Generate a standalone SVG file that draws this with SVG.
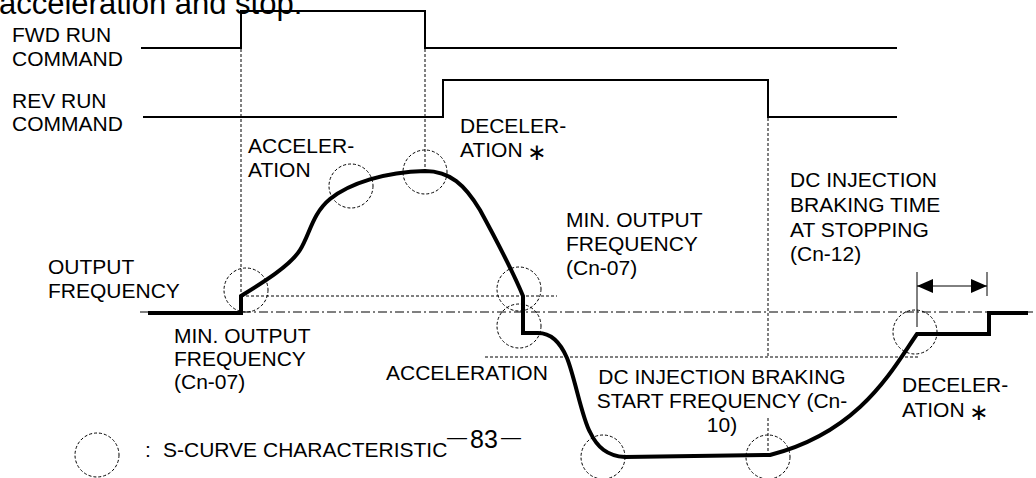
<svg xmlns="http://www.w3.org/2000/svg" width="1036" height="478" viewBox="0 0 1036 478">
<style>
text{font-family:"Liberation Sans",Arial,sans-serif;font-size:21px;fill:#000}
.ast{font-family:"DejaVu Sans","Liberation Sans",sans-serif;font-size:23px}
.sig{fill:none;stroke:#000;stroke-width:2}
.curve{fill:none;stroke:#000;stroke-width:4;stroke-linejoin:miter}
.dot{fill:none;stroke:#000;stroke-width:1;stroke-dasharray:3,2}
.dd{fill:none;stroke:#000;stroke-width:1;stroke-dasharray:9,3,2,3}
.sc{fill:none;stroke:#000;stroke-width:1;stroke-dasharray:3,2}
.thin{fill:none;stroke:#000;stroke-width:1}
</style>
<defs>
<marker id="ah" viewBox="0 0 16 14" refX="16" refY="7" markerWidth="16" markerHeight="14" markerUnits="userSpaceOnUse" orient="auto-start-reverse">
<path d="M0,0 L16,7 L0,14 z" fill="#000"/>
</marker>
</defs>
<rect width="1036" height="478" fill="#fff"/>
<text x="-1" y="14" style="font-size:31px">acceleration and stop.</text>

<g id="fwd-label"><text x="12" y="42">FWD RUN</text><text x="12" y="66">COMMAND</text></g>
<g id="rev-label"><text x="12" y="108">REV RUN</text><text x="12" y="131">COMMAND</text></g>
<g id="fwd-signal"><path class="sig" d="M141,48 H241 V11 H425 V48 H897"/></g>
<g id="rev-signal"><path class="sig" d="M143,117 H443 V80 H768 V117 H897"/></g>

<g id="guides">
<path class="dot" d="M241,49 V296 M425,49 V171 M768,118 V358 M768,418 V457"/>
<path class="dot" d="M241,296 H557 M485,357 H919"/>
<path class="dd" d="M140,312 H1036"/>
<path class="thin" d="M917,272 V327 M987,272 V296"/>
</g>

<g id="output-curve"><path class="curve" d="M148,313 H241 V296 C262,283 290,266 300,250 C310,234 312,214 330,199 C350,183 385,172 425,171 C450,171 465,185 480,210 C492,232 510,265 523,296 V333 H538 C552,333 561,344 567,358 C575,378 582,418 590,432 C597,447 607,456 625,457 L770,455 C860,432 892,370 917,334 H989 V313 H1028"/></g>

<g id="s-curve-circles">
<circle class="sc" cx="246" cy="290" r="22"/>
<circle class="sc" cx="351" cy="186" r="22"/>
<circle class="sc" cx="425" cy="172" r="22"/>
<circle class="sc" cx="519" cy="289" r="22"/>
<circle class="sc" cx="519" cy="326" r="22"/>
<circle class="sc" cx="603" cy="457" r="22"/>
<circle class="sc" cx="768" cy="457" r="22"/>
<circle class="sc" cx="915" cy="332" r="22"/>
</g>

<g id="connectors"><path class="thin" d="M917,286 H987" marker-start="url(#ah)" marker-end="url(#ah)"/></g>

<g id="lbl-accel1"><text x="248" y="153">ACCELER-</text><text x="248" y="177">ATION</text></g>
<g id="lbl-decel1"><text x="460" y="133">DECELER-</text><text x="460" y="157">ATION<tspan class="ast" x="527" y="160">∗</tspan></text></g>
<g id="lbl-minfreq1"><text x="566" y="227">MIN. OUTPUT</text><text x="566" y="251">FREQUENCY</text><text x="566" y="275">(Cn-07)</text></g>
<g id="lbl-dcbrake-time"><text x="790" y="187">DC INJECTION</text><text x="790" y="212">BRAKING TIME</text><text x="790" y="237">AT STOPPING</text><text x="790" y="261">(Cn-12)</text></g>
<g id="lbl-output"><text x="48" y="274">OUTPUT</text><text x="48" y="298">FREQUENCY</text></g>
<g id="lbl-minfreq2"><text x="174" y="343">MIN. OUTPUT</text><text x="174" y="366">FREQUENCY</text><text x="174" y="389">(Cn-07)</text></g>
<g id="lbl-accel2"><text x="386" y="380">ACCELERATION</text></g>
<g id="lbl-dcbrake-start"><text x="722" y="384" text-anchor="middle">DC INJECTION BRAKING</text><text x="722" y="408" text-anchor="middle">START FREQUENCY (Cn-</text><text x="722" y="432" text-anchor="middle">10)</text></g>
<g id="lbl-decel2"><text x="902" y="392">DECELER-</text><text x="902" y="417">ATION<tspan class="ast" x="969" y="420">∗</tspan></text></g>
<g id="legend"><circle class="sc" cx="97" cy="455" r="22"/><text x="145" y="457">:<tspan x="163">S-CURVE CHARACTERISTIC</tspan></text></g>
<text x="447" y="444" style="font-size:20px">—<tspan x="470" y="448" style="font-size:25px">83</tspan><tspan x="501" y="444">—</tspan></text>
</svg>
